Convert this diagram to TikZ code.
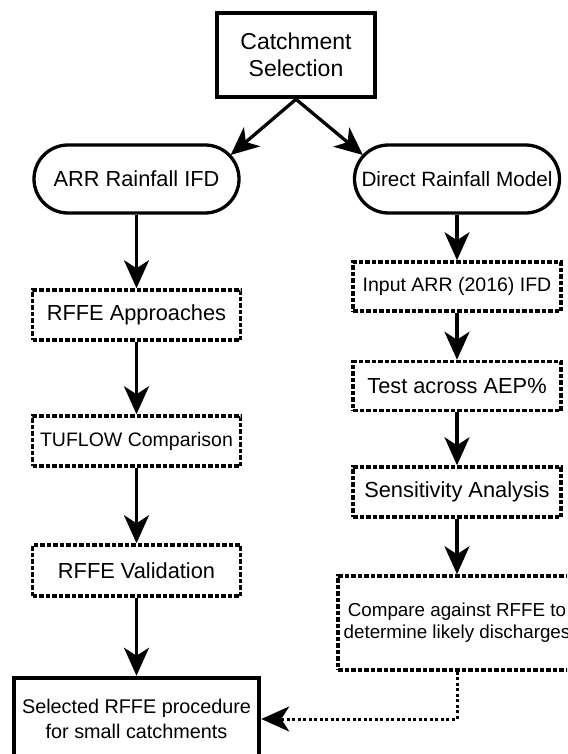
\documentclass[tikz,border=0pt]{standalone}
\usepackage{fontspec}
\setmainfont{Liberation Sans}
\usetikzlibrary{positioning, arrows.meta, calc}

\begin{document}
\begin{tikzpicture}[
        x=1pt, y=-1pt,
        txtl/.style  = {font=\fontsize{21.8}{26}\selectfont},
        txts/.style  = {font=\fontsize{19.5}{24}\selectfont},
        mainbox/.style = {draw, line width=4.5pt, align=center, inner sep=0pt},
        pill/.style  = {draw, line width=3.3pt, rounded corners=34pt, minimum width=205pt, minimum height=68pt, inner sep=0pt, txtl},
        dbox/.style  = {draw, line width=3.5pt, dash pattern=on 4.5pt off 2pt, minimum width=208pt, minimum height=50pt, inner sep=0pt, align=center, txtl},
        arrow/.style = {-{Stealth[length=28pt, width=25pt, inset=8pt]}, line width=3.3pt},
        dotarrow/.style = {arrow, line width=3pt, dash pattern=on 3pt off 2.5pt},
    ]
        \path[use as bounding box, clip] (0,0) rectangle (567,754);

        %---- top ----
        \node[mainbox, minimum width=158pt, minimum height=84pt, font=\fontsize{23}{27.5}\selectfont] (catch) at (296,55) {Catchment\\Selection};
        \node[pill] (arr) at (136.5,179) {ARR Rainfall IFD};
        \node[pill, font=\fontsize{20.7}{25}\selectfont] (drm) at (457,179) {Direct Rainfall Model};
        \coordinate (arrin) at ($(arr.east)+(-10,-24)$);
        \coordinate (drmin) at ($(drm.west)+(10,-24)$);
        \draw[arrow] (catch.south) -- (arrin);
        \draw[arrow] (catch.south) -- (drmin);

        %---- left column ----
        \node[dbox] (rapp) at (136.5,315) {RFFE Approaches};
        \node[dbox, txts] (tuf) at (136.5,441) {TUFLOW Comparison};
        \node[dbox, minimum height=51pt] (val) at (136.5,570.5) {RFFE Validation};
        \node[mainbox, minimum width=245pt, minimum height=82pt, font=\fontsize{19.8}{25}\selectfont] (sel) at (136.5,719) {Selected RFFE procedure\\for small catchments};
        \draw[arrow] (arr) -- (rapp);
        \draw[arrow] (rapp) -- (tuf);
        \draw[arrow] (tuf) -- (val);
        \draw[arrow] (val) -- (sel);

        %---- right column ----
        \node[dbox, txts, minimum height=49pt] (inp) at (457,286.5) {Input ARR (2016) IFD};
        \node[dbox, minimum height=49pt] (test) at (457,386) {Test across AEP\%};
        \node[dbox] (sens) at (457,492) {Sensitivity Analysis};
        \node[dbox, minimum width=238pt, minimum height=94pt, font=\fontsize{18.8}{22}\selectfont] (comp) at (457,623) {Compare against RFFE to\\determine likely discharges};
        \draw[arrow] (drm) -- (inp);
        \draw[arrow] (inp) -- (test);
        \draw[arrow] (test) -- (sens);
        \draw[arrow] (sens) -- (comp);
        \draw[dotarrow] (comp.south) |- (sel.east);
    \end{tikzpicture}
\end{document}
